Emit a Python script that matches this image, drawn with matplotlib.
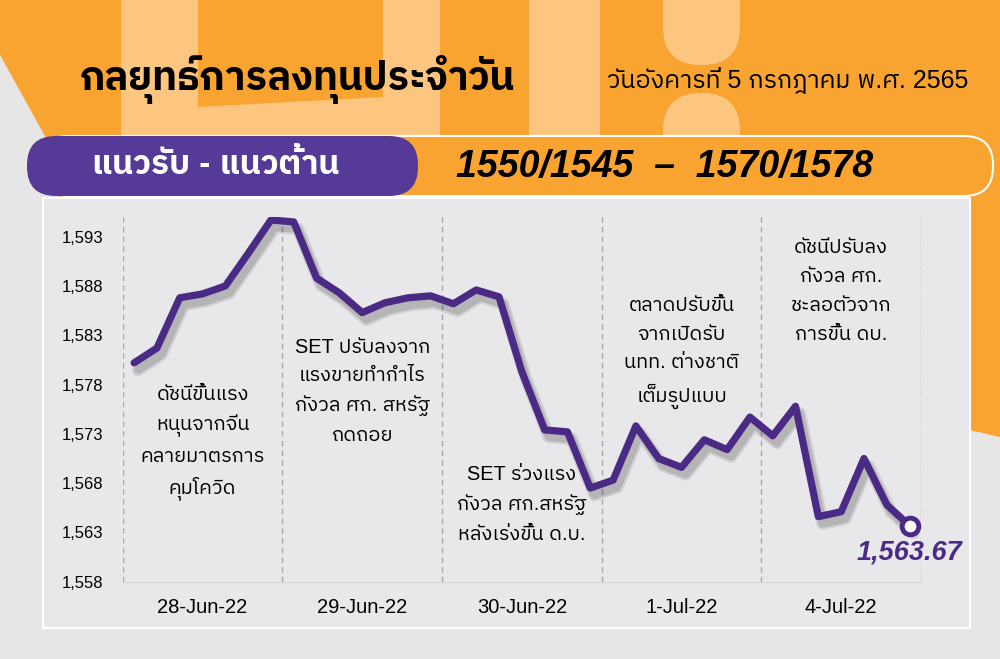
import matplotlib
matplotlib.use("Agg")
from matplotlib import pyplot as plt
from matplotlib import font_manager, patheffects
from matplotlib.ft2font import FT2Font
from matplotlib.patches import Polygon, Rectangle, FancyBboxPatch
from matplotlib.ticker import FuncFormatter

# --- data -------------------------------------------------------------------
days = ["28-Jun-22", "29-Jun-22", "30-Jun-22", "1-Jul-22", "4-Jul-22"]
points_per_day = 7
set_index = [
    1580.2, 1581.7, 1586.8, 1587.2, 1588.0, 1591.3, 1594.7,
    1594.5, 1588.8, 1587.3, 1585.3, 1586.3, 1586.8, 1587.0,
    1586.2, 1587.6, 1586.9, 1579.3, 1573.4, 1573.2, 1567.5,
    1568.3, 1573.8, 1570.5, 1569.6, 1572.4, 1571.4, 1574.7,
    1572.8, 1575.8, 1564.6, 1565.1, 1570.5, 1565.8, 1563.67,
]
y_ticks = [1558, 1563, 1568, 1573, 1578, 1583, 1588, 1593]
notes = [
    "ดัชนีขึ้นแรง\nหนุนจากจีน\nคลายมาตรการ\nคุมโควิด",
    "SET ปรับลงจาก\nแรงขายทำกำไร\nกังวล ศก. สหรัฐ\nถดถอย",
    "SET ร่วงแรง\nกังวล ศก.สหรัฐ\nหลังเร่งขึ้น ด.บ.",
    "ตลาดปรับขึ้น\nจากเปิดรับ\nนทท. ต่างชาติ\nเต็มรูปแบบ",
    "ดัชนีปรับลง\nกังวล ศก.\nชะลอตัวจาก\nการขึ้น ดบ.",
]
note_y = [1572.1, 1577.3, 1565.8, 1581.25, 1587.5]
title = "กลยุทธ์การลงทุนประจำวัน"
date_text = "วันอังคารที่ 5 กรกฎาคม พ.ศ. 2565"
band_label = "แนวรับ - แนวต้าน"
band_values = "1550/1545  –  1570/1578"

PURPLE = "#4b2a86"
ORANGE = "#f9a431"
PEACH = "#fcc680"
GREY = "#e6e6e6"


def thai_fonts():
    found = set()
    for f in font_manager.fontManager.ttflist:
        try:
            if 0x0E01 in FT2Font(f.fname).get_charmap():
                found.add(f.name)
        except Exception:
            pass
    return sorted(found)


thai = thai_fonts()
prefer = [n for n in thai if n == "IBM Plex Sans Thai"] + \
    [n for n in thai if "Thai" in n] + thai
THAI = prefer[0] if prefer else "DejaVu Sans"
FAM = ["Liberation Sans", THAI]

fig = plt.figure(figsize=(10, 6.59), dpi=100)
fig.patch.set_facecolor(GREY)

# --- background decoration in pixel coordinates ------------------------------
bg = fig.add_axes([0, 0, 1, 1])
bg.set_xlim(0, 1000)
bg.set_ylim(659, 0)
bg.axis("off")
bg.add_patch(Polygon([(0, 0), (1000, 0), (1000, 437), (965, 429), (965, 200),
                      (60, 200), (46, 138), (0, 55)], closed=True,
                     facecolor=ORANGE, edgecolor="none"))
for xs in [(121, 198), (383, 440), (529, 600)]:
    bg.add_patch(Rectangle((xs[0], 0), xs[1] - xs[0], 136, facecolor=PEACH,
                           edgecolor="none"))
bg.add_patch(Polygon([(198, 107), (383, 97), (383, 136), (198, 136)],
                     facecolor=PEACH, edgecolor="none"))
bg.add_patch(FancyBboxPatch((663, -40), 77, 105, boxstyle="round,pad=0,rounding_size=38",
                            facecolor=PEACH, edgecolor="none"))
bg.add_patch(FancyBboxPatch((663, 93), 77, 100, boxstyle="round,pad=0,rounding_size=38",
                            facecolor=PEACH, edgecolor="none"))

bg.add_patch(FancyBboxPatch((40, 136), 953, 60, boxstyle="round,pad=0,rounding_size=29",
                            facecolor=ORANGE, edgecolor="white", linewidth=1.5))
bg.add_patch(FancyBboxPatch((27, 136), 391, 60, boxstyle="round,pad=0,rounding_size=29",
                            facecolor="#553b97", edgecolor="none"))
bg.add_patch(Rectangle((43, 198), 927, 430, facecolor="#e8e8ea",
                       edgecolor="white", linewidth=1.5))

bg.text(80, 80, title, family=FAM, fontsize=28.5, fontweight="bold",
        ha="left", va="center", color="black")
bg.text(968, 80, date_text, family=FAM, fontsize=18,
        ha="right", va="center", color="black")
bg.text(216, 166, band_label, family=FAM, fontsize=24, fontweight="bold",
        ha="center", va="center", color="white")
bg.text(665, 167, band_values, family="Liberation Sans", fontsize=27,
        fontweight="bold", style="italic", ha="center", va="center",
        color="black")

# --- chart ------------------------------------------------------------------
ax = fig.add_axes([0.1227, 0.1173, 0.7983, 0.5534])
ax.patch.set_alpha(0)
x = list(range(len(set_index)))
shadow = [patheffects.SimpleLineShadow(offset=(3, -5), shadow_color="black",
                                       alpha=0.10, linewidth=9),
          patheffects.SimpleLineShadow(offset=(3, -5), shadow_color="black",
                                       alpha=0.13, linewidth=6),
          patheffects.Normal()]
ax.plot(x, set_index, color=PURPLE, linewidth=5.2, solid_joinstyle="round",
        solid_capstyle="round", path_effects=shadow, zorder=3)
ax.plot(x[-1], set_index[-1], "o", markersize=12, markerfacecolor="white",
        markeredgecolor=PURPLE, markeredgewidth=3.5, zorder=4)
ax.annotate(f"{set_index[-1]:,.2f}", (x[-1], set_index[-1]), xytext=(0, -19),
            textcoords="offset points", ha="center", va="center",
            family="Liberation Sans", fontsize=19.5, fontweight="bold",
            style="italic", color=PURPLE, zorder=5)

n = len(days)
for k in range(n + 1):
    ax.axvline(k * points_per_day - 0.5, color="#a8a8a8", linewidth=1,
               linestyle=(0, (4, 3)), zorder=1)
for k, (txt, ty) in enumerate(zip(notes, note_y)):
    ax.text(k * points_per_day + 3, ty, txt, family=FAM, fontsize=14.4,
            ha="center", va="center", linespacing=1.65, color="black")

ax.set_xlim(-0.5, n * points_per_day - 0.5)
ax.set_ylim(1558, 1595)
ax.set_yticks(y_ticks)
ax.yaxis.set_major_formatter(FuncFormatter(lambda v, _: f"{v:,.0f}"))
ax.set_xticks([k * points_per_day + 3 for k in range(n)])
ax.set_xticklabels(days)
ax.tick_params(axis="y", length=0, pad=14, labelsize=12)
ax.tick_params(axis="x", length=0, pad=12, labelsize=14.5)
for lab in ax.get_xticklabels() + ax.get_yticklabels():
    lab.set_family("Liberation Sans")
for side in ["top", "right", "left"]:
    ax.spines[side].set_visible(False)
ax.spines["bottom"].set_color("#d6d6d6")

fig.savefig("out.png", dpi=100, facecolor=fig.get_facecolor())
